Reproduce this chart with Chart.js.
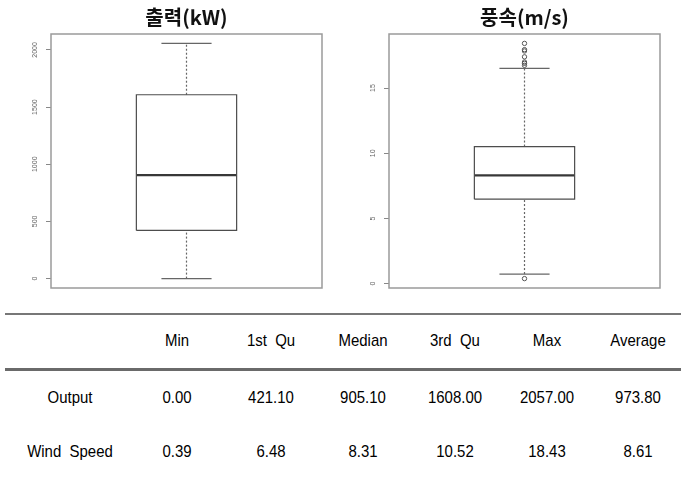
<!DOCTYPE html>
<html>
<head>
<meta charset="utf-8">
<script src="https://cdn.jsdelivr.net/npm/chart.js@4.4.1/dist/chart.umd.min.js"></script>
<style>
    body { margin: 0; background: #fff; width: 681px; height: 479px; overflow: hidden; position: relative; }
    .plot { position: absolute; top: 0; height: 300px; }
    .cell {
        position: absolute;
        transform: translate(-50%, -50%) scaleX(0.88);
        font-family: 'Liberation Sans', 'Arial', sans-serif;
        font-size: 17px;
        color: #000;
        white-space: pre;
    }
    .rule { position: absolute; left: 5px; right: 0; }
</style>
</head>
<body>
<div class="plot" style="left:0;width:340px"><canvas id="outputChart" width="340" height="300"></canvas></div>
<div class="plot" style="left:340px;width:341px"><canvas id="windChart" width="341" height="300"></canvas></div>
<div class="rule" style="top:313px;height:1.5px;background:#777"></div>
<div class="rule" style="top:368px;height:3px;background:#6a6a6a"></div>
<div id="summaryTable"></div>

<script>
// Summary statistics (table + box plots)
const statNames = ['Min', '1st  Qu', 'Median', '3rd  Qu', 'Max', 'Average'];
const rowNames = ['Output', 'Wind  Speed'];
const outputStats = [0.00, 421.10, 905.10, 1608.00, 2057.00, 973.80];
const windStats = [0.39, 6.48, 8.31, 10.52, 18.43, 8.61];

// Whisker ends and outliers
const outputWhiskers = [0, 2057];
const outputOutliers = [];
const windWhiskers = [0.74, 16.51];
const windOutliers = [18.43, 17.95, 17.85, 17.4, 17.0, 16.9, 16.75, 0.39];

// Axis ticks
const outputTicks = [0, 500, 1000, 1500, 2000];
const windTicks = [0, 5, 10, 15];

const BOX_HALF = 0.37;
const CAP_HALF = 0.185;
const LINE_COLOR = '#4d4d4d';

// Draws the grey frame around the plot region (R style)
const framePlugin = {
    id: 'frame',
    beforeDatasetsDraw(chart) {
        const { ctx, chartArea: a } = chart;
        ctx.save();
        ctx.strokeStyle = '#9a9a9a';
        ctx.lineWidth = 1.5;
        ctx.strokeRect(a.left, a.top, a.right - a.left, a.bottom - a.top);
        ctx.restore();
    }
};

function seg(points, extra) {
    return Object.assign({
        data: points,
        showLine: true,
        pointRadius: 0,
        borderColor: LINE_COLOR,
        borderWidth: 1.2,
        fill: false
    }, extra || {});
}

function boxDatasets(stats, whiskers, outliers) {
    const q1 = stats[1], med = stats[2], q3 = stats[3];
    return [
        seg([{ x: -BOX_HALF, y: q1 }, { x: BOX_HALF, y: q1 }, { x: BOX_HALF, y: q3 },
             { x: -BOX_HALF, y: q3 }, { x: -BOX_HALF, y: q1 }]),
        seg([{ x: -BOX_HALF, y: med }, { x: BOX_HALF, y: med }], { borderWidth: 2.2, borderColor: '#383838' }),
        seg([{ x: 0, y: q3 }, { x: 0, y: whiskers[1] }], { borderDash: [2, 2], borderColor: '#666' }),
        seg([{ x: 0, y: whiskers[0] }, { x: 0, y: q1 }], { borderDash: [2, 2], borderColor: '#666' }),
        seg([{ x: -CAP_HALF, y: whiskers[1] }, { x: CAP_HALF, y: whiskers[1] }], { borderColor: '#666' }),
        seg([{ x: -CAP_HALF, y: whiskers[0] }, { x: CAP_HALF, y: whiskers[0] }], { borderColor: '#666' }),
        {
            data: outliers.map(v => ({ x: 0, y: v })),
            showLine: false,
            pointRadius: 2.2,
            pointBorderWidth: 1,
            pointBorderColor: '#555',
            pointBackgroundColor: 'rgba(255,255,255,0)'
        }
    ];
}

function createBoxChart(id, title, stats, whiskers, outliers, ticks, axisWidth, padRight, tickPad) {
    const all = stats.slice(0, 5).concat(whiskers, outliers);
    const lo = Math.min(...all), hi = Math.max(...all);
    const ext = (hi - lo) * 0.04;

    return new Chart(document.getElementById(id).getContext('2d'), {
        type: 'scatter',
        data: { datasets: boxDatasets(stats, whiskers, outliers) },
        options: {
            responsive: false,
            animation: false,
            devicePixelRatio: 1,
            layout: { padding: { left: 0, right: padRight, top: 0, bottom: 12 } },
            plugins: {
                legend: { display: false },
                tooltip: { enabled: false },
                title: {
                    display: true,
                    text: title,
                    fullSize: false,
                    color: '#111',
                    font: { family: "'Noto Sans CJK KR', sans-serif", size: 20, weight: 'bold', lineHeight: 1.2 },
                    padding: { top: 5, bottom: 5 }
                }
            },
            scales: {
                x: { type: 'linear', min: -1, max: 1, display: false },
                y: {
                    min: lo - ext,
                    max: hi + ext,
                    afterBuildTicks: s => { s.ticks = ticks.map(v => ({ value: v })); },
                    afterFit: s => { s.width = axisWidth; },
                    ticks: {
                        font: { family: "'Liberation Sans', sans-serif", size: 7 },
                        color: '#666',
                        minRotation: 90,
                        maxRotation: 90,
                        crossAlign: 'center',
                        padding: tickPad,
                        autoSkip: false,
                        callback: v => String(v)
                    },
                    grid: { drawOnChartArea: false, drawTicks: true, tickLength: 5, color: '#888' },
                    border: { display: false }
                }
            }
        },
        plugins: [framePlugin]
    });
}

// Table of summary statistics
function buildTable() {
    const table = document.getElementById('summaryTable');
    const colX = [70, 177, 271, 363, 455, 547, 638];
    const rowY = [341, 398, 452];
    const rows = [outputStats, windStats];

    const addCell = (text, x, y) => {
        const cell = document.createElement('div');
        cell.className = 'cell';
        cell.style.left = x + 'px';
        cell.style.top = y + 'px';
        cell.textContent = text;
        table.appendChild(cell);
    };

    statNames.forEach((name, i) => addCell(name, colX[i + 1], rowY[0]));
    rows.forEach((vals, r) => {
        addCell(rowNames[r], colX[0], rowY[r + 1]);
        vals.forEach((v, i) => addCell(v.toFixed(2), colX[i + 1], rowY[r + 1]));
    });
}

createBoxChart('outputChart', '출력(kW)', outputStats, outputWhiskers, outputOutliers, outputTicks, 51, 18, 3);
createBoxChart('windChart', '풍속(m/s)', windStats, windWhiskers, windOutliers, windTicks, 49, 21, 7);
buildTable();
</script>
</body>
</html>
